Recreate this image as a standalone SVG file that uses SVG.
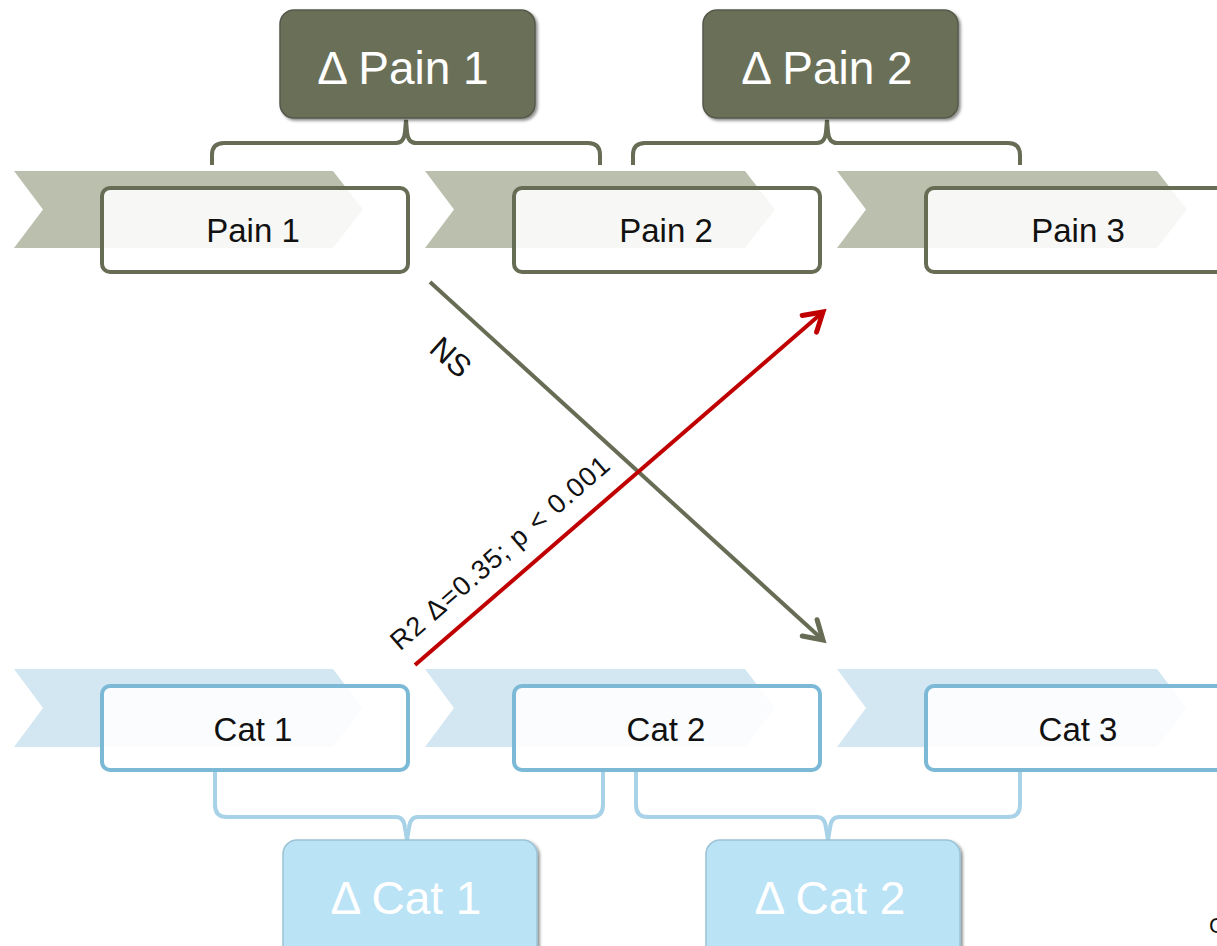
<svg xmlns="http://www.w3.org/2000/svg" width="1217" height="946" viewBox="0 0 1217 946">
<defs>
<style>
.chevP{fill:#bbbfad}
.chevC{fill:#d3e7f2}
.boxP{fill:#ffffff;fill-opacity:0.88;stroke:#676c55;stroke-width:4}
.boxC{fill:#ffffff;fill-opacity:0.88;stroke:#7bb9d7;stroke-width:4}
.lbl{font-family:"Liberation Sans",Arial,sans-serif;font-size:33px;fill:#111;text-anchor:middle}
.hdr{font-family:"Liberation Sans",Arial,sans-serif;font-size:46px;fill:#ffffff;text-anchor:middle}
.hdrP{fill:#6b7059;stroke:#55594a;stroke-width:1.5}
.hdrC{fill:#bbe3f6;stroke:#9cc3d6;stroke-width:1.5}
.brP{fill:none;stroke:#676c55;stroke-width:4}
.brC{fill:none;stroke:#a7d2e7;stroke-width:4}
.edge{font-family:"Liberation Sans",Arial,sans-serif;fill:#111;text-anchor:middle}
</style>
<filter id="sh" x="-10%" y="-10%" width="125%" height="130%">
<feDropShadow dx="2" dy="2" stdDeviation="1.5" flood-color="#000" flood-opacity="0.45"/>
</filter>
<marker id="arG" markerUnits="userSpaceOnUse" viewBox="-24 -15 30 30" markerWidth="30" markerHeight="30" refX="0" refY="0" orient="auto">
<path d="M-18,-11 L0,0 L-18,11" fill="none" stroke="#676c55" stroke-width="5" stroke-linecap="round" stroke-linejoin="miter"/>
</marker>
<marker id="arR" markerUnits="userSpaceOnUse" viewBox="-24 -15 30 30" markerWidth="30" markerHeight="30" refX="0" refY="0" orient="auto">
<path d="M-18,-11 L0,0 L-18,11" fill="none" stroke="#c00000" stroke-width="5" stroke-linecap="round" stroke-linejoin="miter"/>
</marker>
</defs>
<rect width="1217" height="946" fill="#ffffff"/>

<g id="connectors">
<path class="brP" d="M212,165 L212,155 Q212,143 224,143 L396,143 Q404,143 405,132 L406,120 L407,132 Q408,143 416,143 L588,143 Q600,143 600,155 L600,165"/>
<path class="brP" d="M633,165 L633,155 Q633,143 645,143 L817,143 Q825,143 826,132 L827,120 L828,132 Q829,143 837,143 L1008,143 Q1020,143 1020,155 L1020,165"/>
<path class="brC" d="M215,770 L215,805 Q215,817 227,817 L396,817 Q404,817 405,828 L407,840 L409,828 Q410,817 418,817 L591,817 Q603,817 603,805 L603,770"/>
<path class="brC" d="M636,770 L636,805 Q636,817 648,817 L817,817 Q825,817 826,828 L828,840 L830,828 Q831,817 839,817 L1008,817 Q1020,817 1020,805 L1020,770"/>
<line x1="430" y1="282" x2="823" y2="640" stroke="#676c55" stroke-width="4" marker-end="url(#arG)"/>
<line x1="415" y1="665" x2="823" y2="312" stroke="#c00000" stroke-width="4" marker-end="url(#arR)"/>
<text class="edge" font-size="31" transform="translate(451,357) rotate(42)" y="11">NS</text>
<text class="edge" font-size="27" transform="translate(500,553) rotate(-40.9)" y="9" textLength="280" lengthAdjust="spacing">R2 Δ=0.35; p &lt; 0.001</text>
</g>

<g id="pain1">
<path class="chevP" d="M14,171 L333,171 L363,209.5 L333,248 L14,248 L43,209.5 Z"/>
<rect class="boxP" x="102" y="188" width="306" height="84" rx="8"/>
<text class="lbl" x="253" y="242">Pain 1</text>
</g>
<g id="pain2">
<path class="chevP" d="M425,171 L745,171 L775,209.5 L745,248 L425,248 L454,209.5 Z"/>
<rect class="boxP" x="514" y="188" width="306" height="84" rx="8"/>
<text class="lbl" x="666" y="242">Pain 2</text>
</g>
<g id="pain3">
<path class="chevP" d="M837,171 L1157,171 L1187,209.5 L1157,248 L837,248 L866,209.5 Z"/>
<rect class="boxP" x="926" y="188" width="306" height="84" rx="8"/>
<text class="lbl" x="1078" y="242">Pain 3</text>
</g>

<g id="cat1">
<path class="chevC" d="M14,669 L333,669 L363,708 L333,747 L14,747 L43,708 Z"/>
<rect class="boxC" x="102" y="686" width="306" height="84" rx="8"/>
<text class="lbl" x="253" y="741">Cat 1</text>
</g>
<g id="cat2">
<path class="chevC" d="M425,669 L745,669 L775,708 L745,747 L425,747 L454,708 Z"/>
<rect class="boxC" x="514" y="686" width="306" height="84" rx="8"/>
<text class="lbl" x="666" y="741">Cat 2</text>
</g>
<g id="cat3">
<path class="chevC" d="M837,669 L1157,669 L1187,708 L1157,747 L837,747 L866,708 Z"/>
<rect class="boxC" x="926" y="686" width="306" height="84" rx="8"/>
<text class="lbl" x="1078" y="741">Cat 3</text>
</g>

<g id="dpain1">
<rect class="hdrP" x="280" y="10" width="255" height="108" rx="14" filter="url(#sh)"/>
<text class="hdr" x="403" y="84">Δ Pain 1</text>
</g>
<g id="dpain2">
<rect class="hdrP" x="703" y="10" width="255" height="108" rx="14" filter="url(#sh)"/>
<text class="hdr" x="827" y="84">Δ Pain 2</text>
</g>
<g id="dcat1">
<rect class="hdrC" x="283" y="840" width="254" height="120" rx="14" filter="url(#sh)"/>
<text class="hdr" x="406" y="914">Δ Cat 1</text>
</g>
<g id="dcat2">
<rect class="hdrC" x="706" y="840" width="254" height="120" rx="14" filter="url(#sh)"/>
<text class="hdr" x="830" y="914">Δ Cat 2</text>
</g>

<text x="1209" y="933" font-family="'Liberation Sans',Arial,sans-serif" font-size="22" fill="#111">C</text>
</svg>
